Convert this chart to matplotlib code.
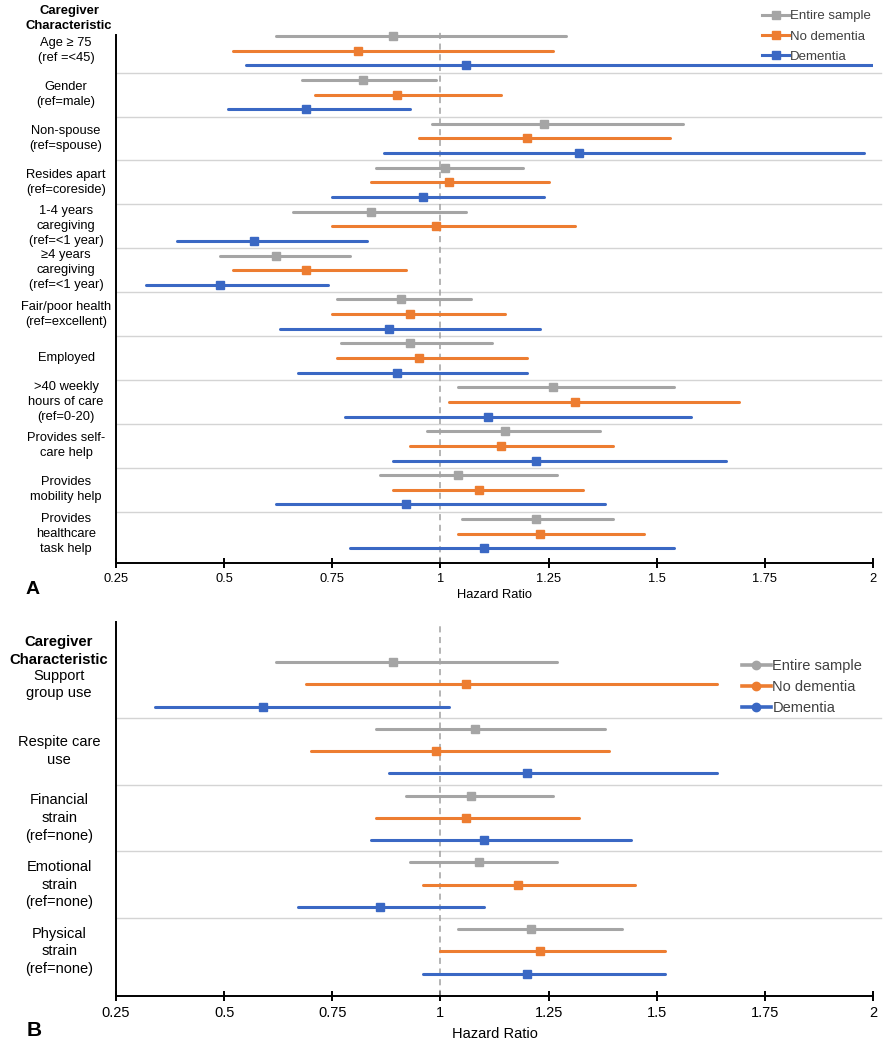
import numpy as np
import matplotlib
matplotlib.use("Agg")
from matplotlib import pyplot as plt
from matplotlib.lines import Line2D

plt.rcParams['font.family'] = ['Liberation Sans', 'DejaVu Sans']

# 数据: 每组三行 (Entire sample, No dementia, Dementia)
series = ["Entire sample", "No dementia", "Dementia"]
colors = ["#A5A5A5", "#ED7D31", "#3A68C4"]

labels_a = ["Age \u2265 75\n(ref =<45)", "Gender\n(ref=male)", "Non-spouse\n(ref=spouse)",
            "Resides apart\n(ref=coreside)", "1-4 years\ncaregiving\n(ref=<1 year)",
            "\u22654 years\ncaregiving\n(ref=<1 year)", "Fair/poor health\n(ref=excellent)",
            "Employed", ">40 weekly\nhours of care\n(ref=0-20)", "Provides self-\ncare help",
            "Provides\nmobility help", "Provides\nhealthcare\ntask help"]
est_a = [[0.89, 0.81, 1.06], [0.82, 0.90, 0.69], [1.24, 1.20, 1.32], [1.01, 1.02, 0.96],
         [0.84, 0.99, 0.57], [0.62, 0.69, 0.49], [0.91, 0.93, 0.88], [0.93, 0.95, 0.90],
         [1.26, 1.31, 1.11], [1.15, 1.14, 1.22], [1.04, 1.09, 0.92], [1.22, 1.23, 1.10]]
lo_a = [[0.62, 0.52, 0.55], [0.68, 0.71, 0.51], [0.98, 0.95, 0.87], [0.85, 0.84, 0.75],
        [0.66, 0.75, 0.39], [0.49, 0.52, 0.32], [0.76, 0.75, 0.63], [0.77, 0.76, 0.67],
        [1.04, 1.02, 0.78], [0.97, 0.93, 0.89], [0.86, 0.89, 0.62], [1.05, 1.04, 0.79]]
hi_a = [[1.29, 1.26, 2.00], [0.99, 1.14, 0.93], [1.56, 1.53, 1.98], [1.19, 1.25, 1.24],
        [1.06, 1.31, 0.83], [0.79, 0.92, 0.74], [1.07, 1.15, 1.23], [1.12, 1.20, 1.20],
        [1.54, 1.69, 1.58], [1.37, 1.40, 1.66], [1.27, 1.33, 1.38], [1.40, 1.47, 1.54]]

labels_b = ["Support\ngroup use", "Respite care\nuse", "Financial\nstrain\n(ref=none)",
            "Emotional\nstrain\n(ref=none)", "Physical\nstrain\n(ref=none)"]
est_b = [[0.89, 1.06, 0.59], [1.08, 0.99, 1.20], [1.07, 1.06, 1.10], [1.09, 1.18, 0.86],
         [1.21, 1.23, 1.20]]
lo_b = [[0.62, 0.69, 0.34], [0.85, 0.70, 0.88], [0.92, 0.85, 0.84], [0.93, 0.96, 0.67],
        [1.04, 1.00, 0.96]]
hi_b = [[1.27, 1.64, 1.02], [1.38, 1.39, 1.64], [1.26, 1.32, 1.44], [1.27, 1.45, 1.10],
        [1.42, 1.52, 1.52]]

xticks = [0.25, 0.5, 0.75, 1, 1.25, 1.5, 1.75, 2]
xticklabels = ["0.25", "0.5", "0.75", "1", "1.25", "1.5", "1.75", "2"]


def forest(ax, labels, est, lo, hi, fs, label_x, lsp):
    n = len(labels)
    for g in range(n):
        for s in range(3):
            y = g * 3 + s + 1
            ax.plot([lo[g][s], hi[g][s]], [y, y], color=colors[s], lw=2.2,
                    solid_capstyle='round', zorder=3)
            ax.plot(est[g][s], y, marker='s', ms=5.5, color=colors[s], zorder=4)
        ax.text(label_x, g * 3 + 2, labels[g], transform=ax.get_yaxis_transform(),
                ha='center', va='center', fontsize=fs, linespacing=lsp)
    # 分隔线
    for g in range(1, n):
        ax.axhline(g * 3 + 0.5, xmin=0, xmax=1.01, color="#D4D4D4", lw=1, clip_on=False,
                   zorder=1)
    ax.axvline(1, color="#A0A0A0", lw=1.1, ls=(0, (4, 3)), zorder=2)
    ax.set_xlim(0.25, 2)
    ax.set_xticks(xticks)
    ax.set_xticklabels(xticklabels)
    ax.set_yticks([])
    ax.spines['top'].set_visible(False)
    ax.spines['right'].set_visible(False)
    ax.spines['left'].set_linewidth(1.4)
    ax.spines['bottom'].set_linewidth(1.4)
    ax.tick_params(axis='x', direction='inout', length=7, width=1.4, labelsize=fs, pad=4)


fig = plt.figure(figsize=(8.88, 10.5), dpi=100)

# 图A
axa = fig.add_axes([116 / 888, 1 - 563 / 1050, 757 / 888, (563 - 29) / 1050])
forest(axa, labels_a, est_a, lo_a, hi_a, 9.3, -0.066, 1.33)
axa.set_ylim(37, 1 - 7 / 14.64)
axa.spines['left'].set_bounds(37, 0.95)
handles = [Line2D([0], [0], color=c, lw=2.2, marker='s', ms=5.5) for c in colors]
axa.legend(handles, series, loc='upper right', bbox_to_anchor=(1.013, 1.058), frameon=False,
           fontsize=9.5, handlelength=2.0, handletextpad=0.1, labelspacing=0.62,
           labelcolor="#404040")
fig.text(69 / 888, 1 - 18.5 / 1050, "Caregiver\nCharacteristic", ha='center', va='center',
         fontsize=9.4, fontweight='bold', linespacing=1.33)
fig.text(494.5 / 888, 1 - 595 / 1050, "Hazard Ratio", ha='center', va='center', fontsize=9.3)
fig.text(33 / 888, 1 - 590 / 1050, "A", ha='center', va='center', fontsize=14,
         fontweight='bold')

# 图B
axb = fig.add_axes([116 / 888, 1 - 996 / 1050, 757 / 888, (996 - 622) / 1050])
forest(axb, labels_b, est_b, lo_b, hi_b, 10.5, -0.075, 1.33)
axb.set_ylim(16, -0.8)
handles = [Line2D([0], [0], color=c, lw=2.6, marker='o', ms=6) for c in colors]
axb.legend(handles, series, loc='upper right', bbox_to_anchor=(1.003, 0.937), frameon=False,
           fontsize=10.5, handlelength=2.0, handletextpad=0.1, labelspacing=0.5,
           labelcolor="#404040")
fig.text(59 / 888, 1 - 651 / 1050, "Caregiver\nCharacteristic", ha='center', va='center',
         fontsize=10.7, fontweight='bold', linespacing=1.3)
fig.text(494.5 / 888, 1 - 1034 / 1050, "Hazard Ratio", ha='center', va='center',
         fontsize=10.5)
fig.text(34 / 888, 1 - 1031 / 1050, "B", ha='center', va='center', fontsize=15,
         fontweight='bold')

fig.savefig("out.png", dpi=100)
